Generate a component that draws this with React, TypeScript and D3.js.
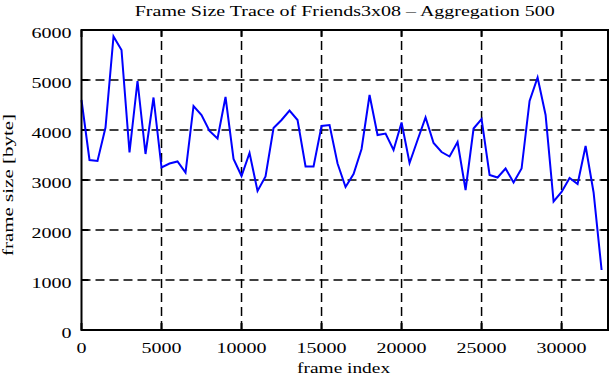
import React from "react";
import * as d3 from "d3";

const frameIndex = [
  0, 500, 1000, 1500, 2000, 2500, 3000, 3500, 4000, 4500,
  5000, 5500, 6000, 6500, 7000, 7500, 8000, 8500, 9000, 9500,
  10000, 10500, 11000, 11500, 12000, 12500, 13000, 13500, 14000, 14500,
  15000, 15500, 16000, 16500, 17000, 17500, 18000, 18500, 19000, 19500,
  20000, 20500, 21000, 21500, 22000, 22500, 23000, 23500, 24000, 24500,
  25000, 25500, 26000, 26500, 27000, 27500, 28000, 28500, 29000, 29500,
  30000, 30500, 31000, 31500, 32000, 32500,
];

const frameSize = [
  4600, 3400, 3380, 4050, 5870, 5600, 3550, 4980, 3520, 4650,
  3250, 3330, 3370, 3150, 4480, 4300, 3980, 3830, 4660, 3420,
  3080, 3540, 2780, 3070, 4040, 4200, 4390, 4200, 3270, 3270,
  4080, 4100, 3330, 2860, 3120, 3620, 4700, 3900, 3930, 3600,
  4150, 3340, 3800, 4250, 3740, 3560, 3470, 3760, 2800, 4030,
  4220, 3100, 3050, 3230, 2950, 3230, 4580, 5050, 4300, 2570,
  2760, 3040, 2920, 3680, 2750, 1200,
];

const xTicks = [0, 5000, 10000, 15000, 20000, 25000, 30000];
const yTicks = [0, 1000, 2000, 3000, 4000, 5000, 6000];

const title = "Frame Size Trace of Friends3x08 \u2013 Aggregation 500";
const xLabel = "frame index";
const yLabel = "frame size [byte]";

const W = 611;
const H = 380;
const L = 81.5;
const R = 608;
const T = 30;
const B = 330;
const FONT = "'Liberation Serif', 'DejaVu Serif', serif";

export default function App() {
  const x = d3.scaleLinear().domain([0, 32900]).range([L, R]);
  const y = d3.scaleLinear().domain([0, 6000]).range([B, T]);
  const pts: [number, number][] = frameIndex.map((f, i) => [f, frameSize[i]]);
  const line = d3
    .line<[number, number]>()
    .x((d) => x(d[0]))
    .y((d) => y(d[1]));
  const tickLen = 7;

  return (
    <svg
      width={W}
      height={H}
      style={{ position: "absolute", left: 0, top: 0, background: "#fff" }}
      fontFamily={FONT}
    >
      <rect x={0} y={0} width={W} height={H} fill="#fff" />
      {/* grid */}
      {yTicks
        .filter((t) => t > 0 && t < 6000)
        .map((t) => (
          <line
            key={"gy" + t}
            x1={L}
            x2={R}
            y1={y(t)}
            y2={y(t)}
            stroke="#000"
            strokeWidth={1.5}
            strokeDasharray="9,5"
          />
        ))}
      {xTicks
        .filter((t) => t > 0)
        .map((t) => (
          <line
            key={"gx" + t}
            x1={x(t)}
            x2={x(t)}
            y1={B}
            y2={T}
            stroke="#000"
            strokeWidth={1.5}
            strokeDasharray="9,5"
          />
        ))}
      {/* ticks */}
      {yTicks.map((t) => (
        <g key={"ty" + t}>
          <line x1={L} x2={L + tickLen} y1={y(t)} y2={y(t)} stroke="#000" strokeWidth={2} />
          <line x1={R} x2={R - tickLen} y1={y(t)} y2={y(t)} stroke="#000" strokeWidth={2} />
          <text
            x={71.5}
            y={y(t) + 8.3}
            fontSize={15}
            textAnchor="end"
            textLength={String(t).length * 10}
            lengthAdjust="spacingAndGlyphs"
          >
            {String(t)}
          </text>
        </g>
      ))}
      {xTicks.map((t) => (
        <g key={"tx" + t}>
          <line x1={x(t)} x2={x(t)} y1={B} y2={B - tickLen} stroke="#000" strokeWidth={2} />
          <line x1={x(t)} x2={x(t)} y1={T} y2={T + tickLen} stroke="#000" strokeWidth={2} />
          <text
            x={x(t)}
            y={353}
            fontSize={15}
            textAnchor="middle"
            textLength={String(t).length * 10}
            lengthAdjust="spacingAndGlyphs"
          >
            {String(t)}
          </text>
        </g>
      ))}
      {/* data line */}
      <path d={line(pts) || ""} fill="none" stroke="#0000ff" strokeWidth={2} strokeLinejoin="miter" />
      {/* frame */}
      <rect x={L} y={T} width={R - L} height={B - T} fill="none" stroke="#000" strokeWidth={2} />
      {/* title */}
      <text
        x={(L + R) / 2}
        y={16}
        fontSize={15}
        textAnchor="middle"
        textLength={420}
        lengthAdjust="spacingAndGlyphs"
      >
        {title}
      </text>
      <text
        x={343.6}
        y={373}
        fontSize={15}
        textAnchor="middle"
        textLength={93}
        lengthAdjust="spacingAndGlyphs"
      >
        {xLabel}
      </text>
      <text
        transform={`translate(12.5,${185}) rotate(-90)`}
        fontSize={15}
        textAnchor="middle"
        textLength={142}
        lengthAdjust="spacingAndGlyphs"
      >
        {yLabel}
      </text>
    </svg>
  );
}
